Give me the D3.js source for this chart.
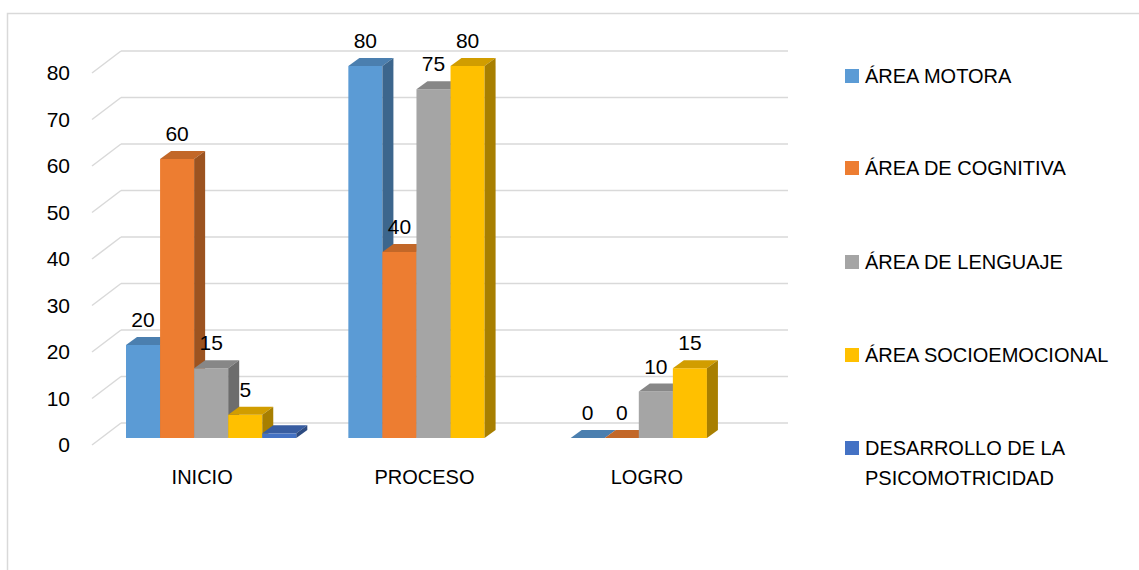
<!DOCTYPE html>
<html>
<head>
<meta charset="utf-8">
<script src="https://cdn.jsdelivr.net/npm/d3@7"></script>
<style>
  body { margin: 0; background: #fff; }
  text { font-family: "Liberation Sans", Arial, sans-serif; fill: #000; }
</style>
</head>
<body>
<script>
// data
const categories = ['INICIO', 'PROCESO', 'LOGRO'];
const seriesNames = ['ÁREA MOTORA', 'ÁREA DE COGNITIVA', 'ÁREA DE LENGUAJE', 'ÁREA SOCIOEMOCIONAL', 'DESARROLLO DE LA PSICOMOTRICIDAD'];
const motora = [20, 80, 0];
const cognitiva = [60, 40, 0];
const lenguaje = [15, 75, 10];
const socioemocional = [5, 80, 15];
const psicomotricidad = [1, null, null];
const yTicks = [0, 10, 20, 30, 40, 50, 60, 70, 80];
const colors = ['#5B9BD5', '#ED7D31', '#A5A5A5', '#FFC000', '#4472C4'];
const showLabel = [true, true, true, true, false];

const values = [motora, cognitiva, lenguaje, socioemocional, psicomotricidad];

const W = 1139, H = 570;
const svg = d3.select('body').append('svg').attr('width', W).attr('height', H);

// outer border
svg.append('rect')
  .attr('x', 7.5).attr('y', 13.5)
  .attr('width', 1200).attr('height', 600)
  .attr('fill', 'none').attr('stroke', '#d9d9d9').attr('stroke-width', 1.5);

// back wall scales
const x = d3.scaleBand().domain(categories).range([120, 787])
  .paddingInner(0.234).paddingOuter(0.117);
const xs = d3.scaleBand().domain(d3.range(seriesNames.length)).range([0, x.bandwidth()]);
const y = d3.scaleLinear().domain([0, 80]).range([423, 51]);

// depth offsets (from back wall)
const floorDx = -29, floorDy = 22;   // front edge of floor
const frontDx = -20, frontDy = 15;   // bar front face
const backDx = -9, backDy = 7;       // bar back face

// gridlines: back wall + left floor diagonal
const grid = svg.append('g');
yTicks.forEach(t => {
  grid.append('line')
    .attr('x1', 121).attr('x2', 788)
    .attr('y1', y(t)).attr('y2', y(t))
    .attr('stroke', '#d9d9d9').attr('stroke-width', 1.5);
  grid.append('line')
    .attr('x1', 121).attr('y1', y(t))
    .attr('x2', 121 + floorDx).attr('y2', y(t) + floorDy)
    .attr('stroke', '#d9d9d9').attr('stroke-width', 1.5);
});

// y tick labels
svg.append('g').selectAll('text').data(yTicks).join('text')
  .attr('x', 70)
  .attr('y', d => y(d) + floorDy)
  .attr('dy', '0.35em')
  .attr('text-anchor', 'end')
  .attr('font-size', 21)
  .text(d => d);

function shade(c, k) {
  const r = d3.rgb(c);
  return d3.rgb(r.r * k, r.g * k, r.b * k).toString();
}

// bars, left to right so later fronts cover earlier sides
const bars = svg.append('g');
categories.forEach((cat, ci) => {
  values.forEach((vals, si) => {
    const v = vals[ci];
    if (v === null) return;
    const x0 = x(cat) + xs(si) + frontDx;
    const x1 = x0 + xs.bandwidth();
    const yb = y(0) + frontDy;
    const yt = y(v) + frontDy;
    const ddx = backDx - frontDx, ddy = backDy - frontDy;
    // front
    bars.append('rect')
      .attr('x', x0).attr('y', yt)
      .attr('width', x1 - x0).attr('height', yb - yt)
      .attr('fill', colors[si]);
    // top
    bars.append('path')
      .attr('d', `M${x0},${yt}L${x0 + ddx},${yt + ddy}L${x1 + ddx},${yt + ddy}L${x1},${yt}Z`)
      .attr('fill', shade(colors[si], 0.82));
    // side
    bars.append('path')
      .attr('d', `M${x1},${yt}L${x1 + ddx},${yt + ddy}L${x1 + ddx},${yb + ddy}L${x1},${yb}Z`)
      .attr('fill', shade(colors[si], 0.66));
  });
});

// data labels
const labels = svg.append('g');
categories.forEach((cat, ci) => {
  values.forEach((vals, si) => {
    const v = vals[ci];
    if (v === null || !showLabel[si]) return;
    labels.append('text')
      .attr('x', x(cat) + xs(si) + xs.bandwidth() / 2 + frontDx)
      .attr('y', y(v) + frontDy - 18)
      .attr('text-anchor', 'middle')
      .attr('font-size', 21)
      .text(v);
  });
});

// category labels
svg.append('g').selectAll('text').data(categories).join('text')
  .attr('x', d => x(d) + x.bandwidth() / 2 + floorDx)
  .attr('y', 484)
  .attr('text-anchor', 'middle')
  .attr('font-size', 20)
  .text(d => d);

// legend
const legendY = [76, 168, 262, 355, 448];
const legend = svg.append('g');
seriesNames.forEach((name, i) => {
  legend.append('rect')
    .attr('x', 845).attr('y', legendY[i] - 7)
    .attr('width', 14).attr('height', 14)
    .attr('fill', colors[i]);
  const t = legend.append('text')
    .attr('x', 865).attr('y', legendY[i])
    .attr('dy', '0.35em')
    .attr('font-size', 20);
  if (name === 'DESARROLLO DE LA PSICOMOTRICIDAD') {
    t.text('DESARROLLO DE LA');
    legend.append('text')
      .attr('x', 865).attr('y', legendY[i] + 30)
      .attr('dy', '0.35em')
      .attr('font-size', 20)
      .text('PSICOMOTRICIDAD');
  } else {
    t.text(name);
  }
});
</script>
</body>
</html>
